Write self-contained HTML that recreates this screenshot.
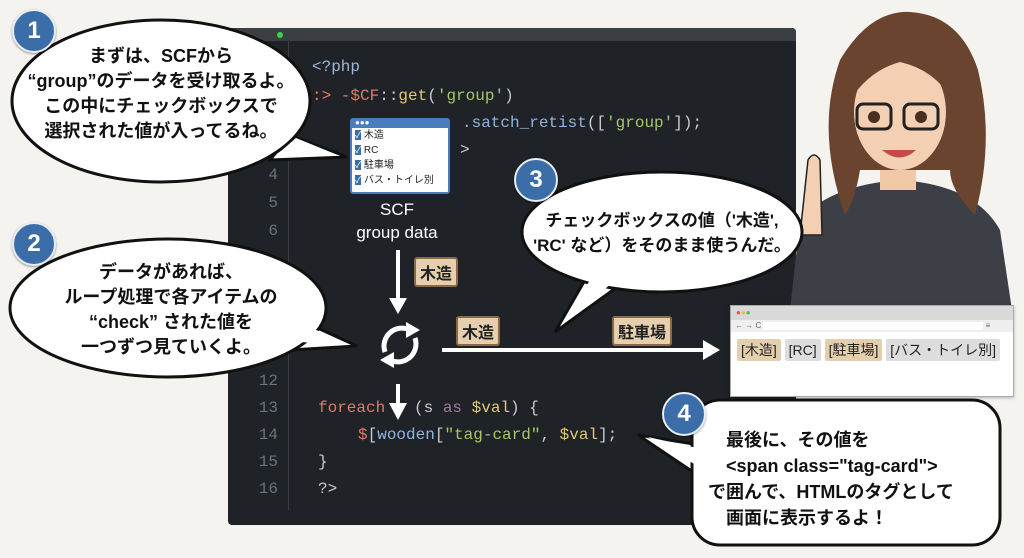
<!DOCTYPE html>
<html><head><meta charset="utf-8"><style>
body{margin:0;width:1024px;height:558px;background:#f4f3ef;overflow:hidden;position:relative;font-family:"Liberation Sans","Noto Sans CJK JP",sans-serif}
.a{position:absolute}
.code{font-family:"Liberation Mono","Noto Sans CJK JP",monospace;font-size:16px;color:#c8ccd0;white-space:pre}
.ln{font-family:"Liberation Mono",monospace;font-size:16px;color:#6c737a;width:30px;text-align:right}
.bt{font-weight:bold;font-size:18px;color:#111;text-align:center;line-height:25px}
.tag{background:#e6cfae;border:2px solid #8a6a45;border-radius:3px;font-size:16px;color:#222;padding:1px 4px;font-weight:bold}
.badge{width:40px;height:40px;border-radius:50%;background:#3b6ea8;color:#fff;font-weight:bold;font-size:24px;text-align:center;line-height:40px;border:2px solid #e8eef5;box-shadow:0 1px 2px #0006}
</style></head><body>
<div class="a" style="left:228px;top:28px;width:568px;height:497px;background:#1f2226;border-radius:4px"></div>
<div class="a" style="left:228px;top:28px;width:568px;height:13px;background:#3b3e42;border-radius:4px 4px 0 0"></div>
<div class="a" style="left:277px;top:32px;width:6px;height:6px;border-radius:50%;background:#3fd14a"></div>
<div class="a" style="left:288px;top:40px;width:1px;height:470px;background:#3a3e44"></div>
<div class="a ln" style="left:248px;top:166px">4</div>
<div class="a ln" style="left:248px;top:194px">5</div>
<div class="a ln" style="left:248px;top:222px">6</div>
<div class="a ln" style="left:248px;top:372px">12</div>
<div class="a ln" style="left:248px;top:399px">13</div>
<div class="a ln" style="left:248px;top:426px">14</div>
<div class="a ln" style="left:248px;top:453px">15</div>
<div class="a ln" style="left:248px;top:480px">16</div>
<div class="a code" style="left:312px;top:58px;color:#9fb6d8">&lt;?php</div>
<div class="a code" style="left:312px;top:87px"><span style="color:#e07a6a">:&gt; ‐$CF</span>::<span style="color:#e0c97a">get</span>(<span style="color:#a6c86a">'group'</span>)</div>
<div class="a code" style="left:462px;top:114px"><span style="color:#8fb4e0">.satch_retist</span>([<span style="color:#a6c86a">'group'</span>]);</div>
<div class="a code" style="left:460px;top:141px">&gt;</div>
<div class="a code" style="left:318px;top:399px"><span style="color:#e07a6a">foreach</span>   (s <span style="color:#a07a9a">as</span> <span style="color:#e0c97a">$val</span>) {</div>
<div class="a code" style="left:358px;top:426px"><span style="color:#e07a6a">$</span>[<span style="color:#8fb4e0">wooden</span>[<span style="color:#a6c86a">"tag-card"</span>, <span style="color:#e0c97a">$val</span>];</div>
<div class="a code" style="left:318px;top:453px">}</div>
<div class="a code" style="left:318px;top:480px">?&gt;</div>
<div class="a" style="left:350px;top:118px;width:96px;height:72px;background:#fff;border:2px solid #4a7cc0;border-radius:3px;font-size:10px;color:#222;line-height:14px">
<div style="background:#4a7cc0;height:8px;color:#fff;font-size:8px;line-height:6px;padding-left:3px">●●●</div>
<div style="padding-left:3px"><span style="color:#fff;background:#3b6ea8;font-size:9px">✓</span> 木造<br><span style="color:#fff;background:#3b6ea8;font-size:9px">✓</span> RC<br><span style="color:#fff;background:#3b6ea8;font-size:9px">✓</span> 駐車場<br><span style="color:#fff;background:#3b6ea8;font-size:9px">✓</span> バス・トイレ別</div></div>
<div class="a" style="left:347px;top:198px;width:100px;text-align:center;color:#fff;font-size:17px;line-height:23px">SCF<br>group data</div>
<div class="a tag" style="left:414px;top:257px">木造</div>
<div class="a tag" style="left:456px;top:316px">木造</div>
<div class="a tag" style="left:612px;top:316px">駐車場</div>
<svg class="a" style="left:0;top:0" width="1024" height="558">
<g stroke="#fff" stroke-width="4" fill="#fff">
<line x1="398" y1="250" x2="398" y2="300"/><polygon points="389,298 407,298 398,314" stroke="none"/>
<line x1="442" y1="350" x2="705" y2="350"/><polygon points="703,340 720,350 703,360" stroke="none"/>
<line x1="398" y1="384" x2="398" y2="405"/><polygon points="389,403 407,403 398,420" stroke="none"/>
<path d="M385 352 A18 18 0 0 1 410 330" fill="none" stroke-width="5"/><polygon points="406,322 420,330 406,338" stroke="none"/>
<path d="M415 338 A18 18 0 0 1 390 360" fill="none" stroke-width="5"/><polygon points="394,352 380,360 394,368" stroke="none"/>
</g>
<g>
<path d="M790 310 L800 220 Q830 185 900 180 Q975 185 1000 230 L1012 310 Z" fill="#3c4046"/>
<rect x="880" y="150" width="36" height="40" fill="#f1c8a8"/>
<path d="M845 215 Q815 130 840 60 Q870 10 910 12 Q960 15 978 70 Q995 140 975 215 Q950 190 950 170 L860 170 Q855 200 845 215Z" fill="#6b4430"/>
<ellipse cx="900" cy="112" rx="46" ry="58" fill="#f3cfb3"/>
<path d="M850 100 Q860 35 920 38 Q955 50 952 100 Q935 70 900 62 Q870 70 850 100Z" fill="#6b4430"/>
<rect x="857" y="104" width="34" height="25" rx="6" fill="none" stroke="#222" stroke-width="3"/>
<rect x="904" y="104" width="34" height="25" rx="6" fill="none" stroke="#222" stroke-width="3"/>
<circle cx="874" cy="117" r="6" fill="#4a2e1e"/><circle cx="921" cy="117" r="6" fill="#4a2e1e"/>
<path d="M882 150 Q900 165 916 150" fill="#c24a4a"/>
<path d="M800 235 L808 160 Q814 150 820 160 L822 235 Z" fill="#f3cfb3" stroke="#222" stroke-width="1.5"/>
</g>
<g fill="#fff" stroke="#111" stroke-width="3">
<path d="M290 135 L347 157 L270 160 Z"/>
<ellipse cx="161" cy="101" rx="149" ry="81"/>
<path d="M300 320 L357 346 L290 350 Z"/>
<ellipse cx="168" cy="308" rx="158" ry="69"/>
<path d="M585 280 L555 332 L620 285 Z"/>
<ellipse cx="662" cy="232" rx="140" ry="60"/>
<path d="M700 445 L638 435 L705 480 Z"/>
<rect x="692" y="400" width="308" height="145" rx="28"/>
</g>
<g fill="#fff" stroke="none"><path d="M296 138 L340 156 L280 152Z"/><path d="M305 325 L350 345 L300 342Z"/><path d="M590 280 L562 325 L612 283Z"/><path d="M706 450 L648 437 L708 472Z"/></g>
</svg>
<div class="a" style="left:730px;top:305px;width:282px;height:90px;background:#fff;border:1px solid #aaa;box-shadow:0 1px 3px #0004">
<div style="height:14px;background:#d9d9d9;font-size:8px;color:#e55;padding-left:5px;line-height:14px">●<span style="color:#eb3">●</span><span style="color:#5b5">●</span></div>
<div style="height:12px;background:#eee;font-size:8px;color:#666;line-height:12px;padding-left:4px">← → C <span style="display:inline-block;width:220px;height:8px;background:#fff;vertical-align:middle"></span> ≡</div>
<div style="padding:8px 0 0 6px;font-size:14px;color:#222">
<span style="background:#e3cfae;padding:3px 4px;border-radius:2px">[木造]</span>
<span style="background:#ddd;padding:3px 4px;border-radius:2px">[RC]</span>
<span style="background:#e3cfae;padding:3px 4px;border-radius:2px">[駐車場]</span>
<span style="background:#ddd;padding:3px 4px;border-radius:2px">[バス・トイレ別]</span></div></div>
<div class="a bt" style="left:12px;top:44px;width:298px">まずは、SCFから<br>“group”のデータを受け取るよ。<br>この中にチェックボックスで<br>選択された値が入ってるね。</div>
<div class="a bt" style="left:12px;top:260px;width:318px">データがあれば、<br>ループ処理で各アイテムの<br>“check” された値を<br>一つずつ見ていくよ。</div>
<div class="a bt" style="left:522px;top:208px;width:280px;font-size:17px">チェックボックスの値（'木造',<br>'RC' など）をそのまま使うんだ。</div>
<div class="a bt" style="left:708px;top:427px;width:280px;text-align:left;line-height:26px">　最後に、その値を<br>　&lt;span class="tag-card"&gt;<br>で囲んで、HTMLのタグとして<br>　画面に表示するよ！</div>
<div class="a badge" style="left:12px;top:9px">1</div>
<div class="a badge" style="left:12px;top:222px">2</div>
<div class="a badge" style="left:514px;top:158px">3</div>
<div class="a badge" style="left:662px;top:392px">4</div>
</body></html>
